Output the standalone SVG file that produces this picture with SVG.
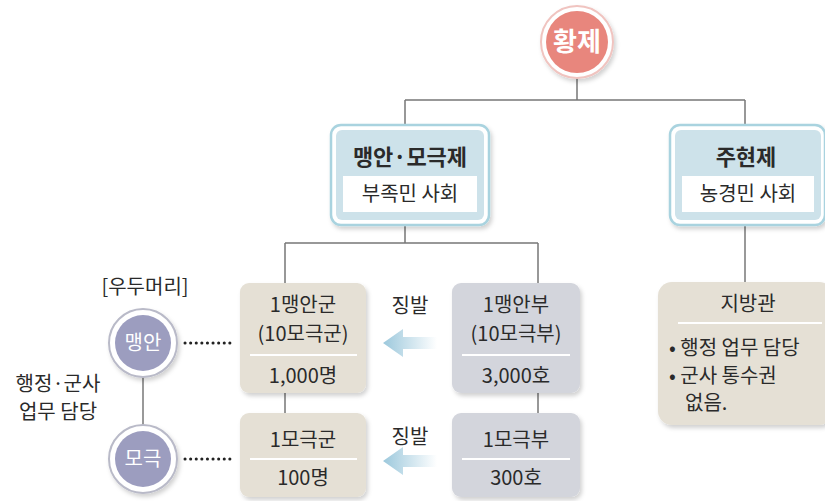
<svg xmlns="http://www.w3.org/2000/svg" width="825" height="501" viewBox="0 0 825 501">
<defs>
<style>
text{font-family:"Noto Sans CJK KR","Noto Sans",sans-serif;fill:#2a2a2a;text-anchor:middle}
.t{font-size:20px}
.h{font-size:22px;font-weight:bold}
.w{fill:#fff}
.ln{stroke:#777;stroke-width:1.5;fill:none}
.beige{fill:#e5e0d5}
.gray{fill:#d3d5dc}
.sep{stroke:#fff;stroke-width:2}
.dots{stroke:#222;stroke-width:3;stroke-dasharray:0.1 5.5;stroke-linecap:round;fill:none}
</style>
<linearGradient id="ag" x1="0" x2="1" y1="0" y2="0">
<stop offset="0" stop-color="#9cc8dc"/>
<stop offset="1" stop-color="#9cc8dc" stop-opacity="0"/>
</linearGradient>
<filter id="sh" x="-20%" y="-20%" width="140%" height="140%">
<feDropShadow dx="2" dy="3" stdDeviation="2" flood-color="#000" flood-opacity="0.18"/>
</filter>
</defs>

<g id="connectors">
<path class="ln" d="M577 78V100M405 100H745M405 100V125M745 100V125"/>
<path class="ln" d="M405 225V243M285 243H538M285 243V283M538 243V283"/>
<path class="ln" d="M745 225V282"/>
<path class="ln" d="M285 393V413M538 393V413"/>
<path class="ln" d="M143 376V426"/>
<path class="dots" d="M185 343H231M185 459H231"/>
</g>

<g id="emperor">
<circle cx="577" cy="42" r="36" fill="#fff" stroke="#f0c4c0" stroke-width="2" filter="url(#sh)"/>
<circle cx="577" cy="42" r="31" fill="#e8867d"/>
<text x="577" y="51" class="w" style="font-size:26px;font-weight:bold">황제</text>
</g>

<g id="maengan-system">
<rect x="331" y="125" width="158" height="100" rx="10" fill="#fff" stroke="#a9d3df" stroke-width="2.5" filter="url(#sh)"/>
<rect x="336" y="130" width="148" height="90" rx="6" fill="#cde2ea"/>
<text x="410" y="165" class="h">맹안·모극제</text>
<rect x="343" y="176" width="134" height="36" fill="#fff"/>
<text x="410" y="201" class="t">부족민 사회</text>
</g>

<g id="juhyeon-system">
<rect x="670" y="125" width="155" height="100" rx="10" fill="#fff" stroke="#a9d3df" stroke-width="2.5" filter="url(#sh)"/>
<rect x="675" y="130" width="146" height="90" rx="6" fill="#cde2ea"/>
<text x="746" y="165" class="h">주현제</text>
<rect x="682" y="176" width="132" height="36" fill="#fff"/>
<text x="748" y="201" class="t">농경민 사회</text>
</g>

<g id="maengan-gun">
<rect x="240" y="283" width="126" height="110" rx="9" class="beige" filter="url(#sh)"/>
<text x="303" y="312" class="t">1맹안군</text>
<text x="303" y="341" class="t">(10모극군)</text>
<line x1="250" y1="355" x2="357" y2="355" class="sep"/>
<text x="303" y="383" class="t">1,000명</text>
</g>

<g id="maengan-bu">
<rect x="452" y="283" width="128" height="110" rx="9" class="gray" filter="url(#sh)"/>
<text x="516" y="312" class="t">1맹안부</text>
<text x="516" y="341" class="t">(10모극부)</text>
<line x1="462" y1="355" x2="570" y2="355" class="sep"/>
<text x="516" y="383" class="t">3,000호</text>
</g>

<g id="mogeuk-gun">
<rect x="240" y="413" width="126" height="84" rx="9" class="beige" filter="url(#sh)"/>
<text x="303" y="447" class="t">1모극군</text>
<line x1="250" y1="459" x2="357" y2="459" class="sep"/>
<text x="303" y="485" class="t">100명</text>
</g>

<g id="mogeuk-bu">
<rect x="452" y="413" width="128" height="84" rx="9" class="gray" filter="url(#sh)"/>
<text x="516" y="447" class="t">1모극부</text>
<line x1="462" y1="459" x2="570" y2="459" class="sep"/>
<text x="516" y="485" class="t">300호</text>
</g>

<g id="levy1">
<text x="410" y="313" class="t">징발</text>
<polygon points="383,343 403,329 403,337 437,337 437,349 403,349 403,357" fill="url(#ag)"/>
</g>
<g id="levy2">
<text x="410" y="444" class="t">징발</text>
<polygon points="383,461 403,447 403,455 437,455 437,467 403,467 403,475" fill="url(#ag)"/>
</g>

<g id="governor">
<rect x="658" y="282" width="175" height="143" rx="14" class="beige" filter="url(#sh)"/>
<text x="748" y="311" class="t">지방관</text>
<line x1="678" y1="323" x2="822" y2="323" class="sep"/>
<text x="669" y="355" class="t" style="text-anchor:start">• 행정 업무 담당</text>
<text x="669" y="383" class="t" style="text-anchor:start">• 군사 통수권</text>
<text x="685" y="410" class="t" style="text-anchor:start">없음.</text>
</g>

<g id="leader-label">
<text x="145" y="294" class="t">[우두머리]</text>
</g>

<g id="maengan">
<circle cx="143" cy="343" r="34" fill="#fff" stroke="#b9bac8" stroke-width="2" filter="url(#sh)"/>
<circle cx="143" cy="343" r="28" fill="#9c9dbf"/>
<text x="143" y="350" class="w" style="font-size:20px">맹안</text>
</g>

<g id="mogeuk">
<circle cx="143" cy="459" r="34" fill="#fff" stroke="#b9bac8" stroke-width="2" filter="url(#sh)"/>
<circle cx="143" cy="459" r="28" fill="#9c9dbf"/>
<text x="143" y="466" class="w" style="font-size:20px">모극</text>
</g>

<g id="duty-label">
<text x="58" y="391" class="t">행정·군사</text>
<text x="58" y="419" class="t">업무 담당</text>
</g>
</svg>
